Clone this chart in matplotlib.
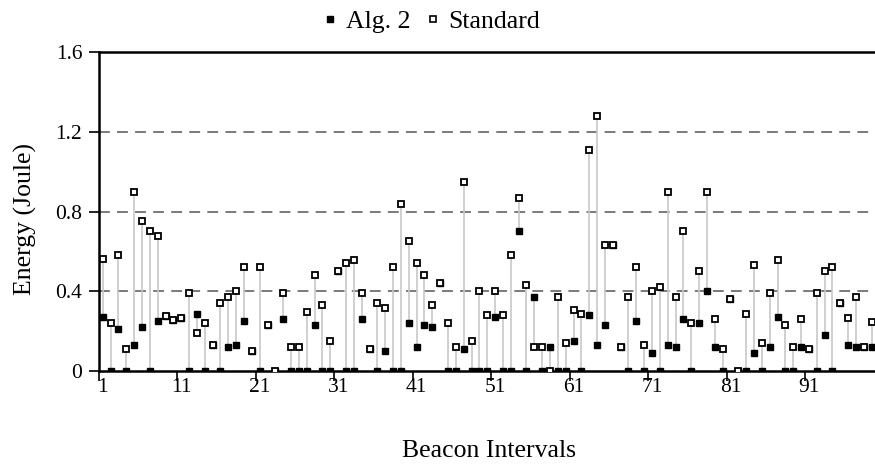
import numpy as np
import matplotlib
matplotlib.use("Agg")
import matplotlib.pyplot as plt
from matplotlib.lines import Line2D

plt.rcParams["font.family"] = ["Liberation Serif", "DejaVu Serif"]

# --- Данные ---
intervals = list(range(1, 100))

standard = [0.56, 0.24, 0.58, 0.11, 0.90, 0.75, 0.70, 0.675, 0.275, 0.255,
            0.267, 0.39, 0.19, 0.24, 0.13, 0.34, 0.37, 0.40, 0.52, 0.10,
            0.52, 0.23, 0.0, 0.39, 0.12, 0.12, 0.295, 0.48, 0.33, 0.15,
            0.50, 0.54, 0.555, 0.39, 0.11, 0.34, 0.315, 0.52, 0.84, 0.65,
            0.54, 0.48, 0.33, 0.44, 0.24, 0.12, 0.95, 0.15, 0.40, 0.28,
            0.40, 0.28, 0.58, 0.87, 0.43, 0.12, 0.12, 0.0, 0.37, 0.14,
            0.305, 0.285, 1.11, 1.28, 0.63, 0.63, 0.12, 0.37, 0.52, 0.13,
            0.40, 0.42, 0.90, 0.37, 0.70, 0.24, 0.50, 0.90, 0.26, 0.11,
            0.36, 0.0, 0.285, 0.53, 0.14, 0.39, 0.555, 0.23, 0.12, 0.26,
            0.11, 0.39, 0.50, 0.52, 0.34, 0.265, 0.37, 0.12, 0.245]

alg2 = [0.27, 0.0, 0.21, 0.0, 0.13, 0.22, 0.0, 0.25, 0.275, 0.255,
        0.267, 0.0, 0.285, 0.0, 0.13, 0.0, 0.12, 0.13, 0.25, 0.10,
        0.0, 0.23, 0.0, 0.26, 0.0, 0.0, 0.0, 0.23, 0.0, 0.0,
        0.50, 0.0, 0.0, 0.26, 0.11, 0.0, 0.10, 0.0, 0.0, 0.24,
        0.12, 0.23, 0.22, 0.44, 0.0, 0.0, 0.11, 0.0, 0.0, 0.0,
        0.27, 0.0, 0.0, 0.70, 0.0, 0.37, 0.0, 0.12, 0.0, 0.0,
        0.15, 0.0, 0.28, 0.13, 0.23, 0.63, 0.12, 0.0, 0.25, 0.0,
        0.09, 0.0, 0.13, 0.12, 0.26, 0.0, 0.24, 0.40, 0.12, 0.0,
        0.36, 0.0, 0.0, 0.09, 0.0, 0.12, 0.27, 0.0, 0.0, 0.12,
        0.11, 0.0, 0.18, 0.0, 0.34, 0.13, 0.12, 0.12, 0.12]

x_labels = [1, 11, 21, 31, 41, 51, 61, 71, 81, 91]
y_ticks = [0, 0.4, 0.8, 1.2, 1.6]

# --- График ---
fig = plt.figure(figsize=(8.75, 4.67), dpi=100, facecolor="white")
ax = fig.add_axes([0.113, 0.2056, 0.887, 0.683])

x = np.array(intervals)
lo = np.minimum(alg2, standard)
hi = np.maximum(alg2, standard)
ax.vlines(x, lo, hi, color="#c8c8c8", lw=1.2, zorder=2)

ax.plot(x, alg2, ls="none", marker="s", ms=5, color="black", zorder=3)
ax.plot(x, standard, ls="none", marker="s", ms=5, mfc="white", mec="black",
        mew=1.3, zorder=4)

for y in [0.4, 0.8, 1.2]:
    ax.axhline(y, color="#707070", lw=1.3, ls=(0, (6, 4)), zorder=1)

ax.set_ylim(0, 1.6)
ax.set_xlim(0.5, 99.42)
ax.set_yticks(y_ticks)
ax.set_yticklabels(["0", "0.4", "0.8", "1.2", "1.6"], fontsize=15.5)
ax.set_xticks(x_labels)
ax.set_xticklabels([str(v) for v in x_labels], fontsize=15.5)
ax.set_xticks(np.arange(0.5, 100, 10), minor=True)
ax.tick_params(axis="x", which="major", length=0, pad=5)
ax.tick_params(axis="x", which="minor", length=7, width=1.2, direction="out")
ax.tick_params(axis="y", length=7, width=1.2, direction="out", pad=5)

for s in ["left", "bottom", "top"]:
    ax.spines[s].set_linewidth(1.8)
    ax.spines[s].set_color("black")
ax.spines["right"].set_visible(False)

ax.set_ylabel("Energy (Joule)", fontsize=18.5)
ax.yaxis.set_label_coords(-0.080, 0.475)
ax.set_xlabel("Beacon Intervals", fontsize=18.5)
ax.xaxis.set_label_coords(0.503, -0.215)

handles = [Line2D([], [], ls="none", marker="s", ms=4.5, color="black"),
           Line2D([], [], ls="none", marker="s", ms=4.5, mfc="white",
                  mec="black", mew=1.2)]
fig.legend(handles, ["Alg. 2", "Standard"], loc="center",
           bbox_to_anchor=(0.493, 0.955), ncol=2, frameon=False, fontsize=18.5,
           handlelength=0.6, handletextpad=0.3, columnspacing=0.6)

plt.savefig("out.png", dpi=100)
